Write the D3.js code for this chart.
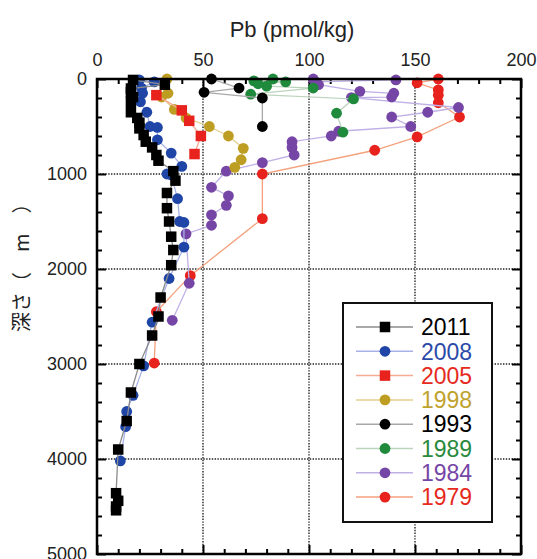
<!DOCTYPE html>
<html>
<head>
<meta charset="utf-8">
<script src="https://cdn.jsdelivr.net/npm/d3@7"></script>
<style>
  body { margin: 0; background: #fff; }
  svg { display: block; font-family: "Liberation Sans", Arial, sans-serif; }
</style>
</head>
<body>
<svg id="chart" width="537" height="559"></svg>
<script>
// Pb profiles, depth in m, Pb in pmol/kg
const depth2011 = [10, 60, 100, 140, 190, 240, 350, 410, 460, 520, 590, 660, 720, 800, 860, 970, 1070, 1200, 1360, 1500, 1660, 1800, 1960, 2300, 2500, 2700, 3000, 3300, 3600, 3900, 4360, 4440, 4500, 4540];
const pb2011 = [17, 32, 16, 16, 17, 16, 16, 19, 20, 20, 22, 23, 26, 28, 29, 36, 37, 33, 33, 34, 35, 36, 35, 30, 29, 26, 20, 16, 14, 10, 9, 10, 9, 9];

const depth2008 = [10, 30, 95, 150, 240, 350, 500, 510, 640, 780, 920, 1000, 1010, 1260, 1500, 1510, 1770, 2100, 2560, 3020, 3330, 3500, 3660, 4020];
const pb2008 = [20, 27, 21, 21.5, 20.5, 23.5, 25, 28.5, 28.5, 35, 40, 33, 35, 38, 39, 41, 41, 34, 26, 22, 17, 14, 13.5, 11];

const depth2005 = [170, 330, 440, 600, 790];
const pb2005 = [28, 40, 43.5, 49, 46];

const depth1998 = [0, 150, 190, 320, 410, 500, 600, 730, 850, 930];
const pb1998 = [33, 33.5, 30.5, 36.5, 42, 53, 62, 69, 68, 65];

const depth1993 = [0, 95, 140, 200, 500];
const pb1993 = [54, 67, 50.5, 78, 78];

const depth1989 = [0, 20, 30, 50, 75, 95, 160, 210, 360, 560];
const pb1989 = [83, 74, 89, 76, 80, 102, 72.5, 121, 113, 116];

const depth1984 = [0, 10, 30, 60, 130, 150, 190, 195, 300, 350, 400, 500, 550, 600, 660, 720, 800, 880, 970, 1140, 1230, 1330, 1430, 1540, 1630, 2150, 2540];
const pb1984 = [102, 141, 103, 104.5, 124, 140, 139, 120, 170.5, 156, 139, 148, 114, 110.5, 92, 92, 93, 78, 61, 54, 62, 61, 54, 54, 42, 43.5, 35.5];

const depth1979 = [0, 40, 115, 170, 250, 400, 610, 750, 1000, 1470, 2070, 2450, 2990];
const pb1979 = [161, 151, 161, 161, 161, 171, 151, 131, 78, 78, 44, 28, 27];

const xTicks = [0, 50, 100, 150, 200];
const yTicks = [0, 1000, 2000, 3000, 4000, 5000];

// styling per year, oldest drawn first
const series = [
  { year: '1979', depth: depth1979, pb: pb1979, shape: 'circle', mark: '#e8221c', line: '#f4a17c', text: '#e52a20' },
  { year: '1984', depth: depth1984, pb: pb1984, shape: 'circle', mark: '#7646a6', line: '#bfb0e6', text: '#7646a6' },
  { year: '1989', depth: depth1989, pb: pb1989, shape: 'circle', mark: '#1f8a3c', line: '#bcd3bc', text: '#2a8a3e' },
  { year: '1993', depth: depth1993, pb: pb1993, shape: 'circle', mark: '#000000', line: '#a8a8a8', text: '#000000' },
  { year: '1998', depth: depth1998, pb: pb1998, shape: 'circle', mark: '#bd9d22', line: '#e3cf8c', text: '#c0a22e' },
  { year: '2005', depth: depth2005, pb: pb2005, shape: 'square', mark: '#e8221c', line: '#f7aa92', text: '#e52a20' },
  { year: '2008', depth: depth2008, pb: pb2008, shape: 'circle', mark: '#1f45a6', line: '#a9b2e6', text: '#2b4aa8' },
  { year: '2011', depth: depth2011, pb: pb2011, shape: 'square', mark: '#000000', line: '#8c8c8c', text: '#000000' },
];

const cs = {
  left: 97, right: 521, top: 79, bottom: 554,
  r: 5.4, sq: 10.5,
  font: '"Liberation Sans", Arial, sans-serif',
};

const svg = d3.select('#chart');
const x = d3.scaleLinear().domain([0, 200]).range([cs.left, cs.right]);
const y = d3.scaleLinear().domain([0, 5000]).range([cs.top, cs.bottom]);

// dotted grid
const grid = svg.append('g').attr('stroke', '#222').attr('stroke-width', 1.4).attr('stroke-dasharray', '1.4,1.4');
grid.selectAll('line.v').data([50, 100, 150]).enter().append('line')
  .attr('x1', d => x(d)).attr('x2', d => x(d)).attr('y1', cs.top).attr('y2', cs.bottom);
grid.selectAll('line.h').data([1000, 2000, 3000, 4000]).enter().append('line')
  .attr('y1', d => y(d)).attr('y2', d => y(d)).attr('x1', cs.left).attr('x2', cs.right);

// tick marks on all four sides, pointing inward
const addAxis = (axis, tx, ty) => {
  const g = svg.append('g').attr('transform', `translate(${tx},${ty})`).call(axis);
  g.select('.domain').remove();
  g.selectAll('.tick line').attr('stroke', '#000').attr('stroke-width', 2);
  return g;
};
const minorX = d3.range(0, 201, 10).filter(v => v % 50);
const minorY = d3.range(0, 5001, 200).filter(v => v % 1000);
addAxis(d3.axisTop(x).tickValues(minorX).tickSize(-5).tickFormat(''), 0, cs.top);
addAxis(d3.axisBottom(x).tickValues(minorX).tickSize(-5).tickFormat(''), 0, cs.bottom);
addAxis(d3.axisLeft(y).tickValues(minorY).tickSize(-5).tickFormat(''), cs.left, 0);
addAxis(d3.axisRight(y).tickValues(minorY).tickSize(-5).tickFormat(''), cs.right, 0);
addAxis(d3.axisBottom(x).tickValues(xTicks).tickSize(-9).tickFormat(''), 0, cs.bottom);
addAxis(d3.axisRight(y).tickValues(yTicks).tickSize(-9).tickFormat(''), cs.right, 0);

const topAxis = addAxis(d3.axisTop(x).tickValues(xTicks).tickSize(-9).tickPadding(13).tickFormat(d3.format('d')), 0, cs.top);
topAxis.selectAll('text').attr('font-size', 18).attr('fill', '#222').style('font-family', cs.font);
const leftAxis = addAxis(d3.axisLeft(y).tickValues(yTicks).tickSize(-9).tickPadding(10).tickFormat(d3.format('d')), cs.left, 0);
leftAxis.selectAll('text').attr('font-size', 18).attr('fill', '#222').style('font-family', cs.font);

// axis titles
svg.append('text').attr('x', 292).attr('y', 37).attr('text-anchor', 'middle')
  .attr('font-size', 22).attr('fill', '#222').text('Pb (pmol/kg)');
svg.append('text').attr('transform', 'translate(29,332) rotate(-90)')
  .attr('font-size', 20).attr('fill', '#222')
  .style('font-family', '"Noto Sans CJK JP", sans-serif')
  .text('深さ（　m　）');

// profiles
const line = d3.line().x(d => x(d[1])).y(d => y(d[0]));
const drawMarks = (g, pts, s) => {
  if (s.shape === 'square') {
    g.selectAll('rect').data(pts).enter().append('rect')
      .attr('x', d => x(d[1]) - cs.sq / 2).attr('y', d => y(d[0]) - cs.sq / 2)
      .attr('width', cs.sq).attr('height', cs.sq).attr('fill', s.mark);
  } else {
    g.selectAll('circle').data(pts).enter().append('circle')
      .attr('cx', d => x(d[1])).attr('cy', d => y(d[0])).attr('r', cs.r).attr('fill', s.mark);
  }
};

series.forEach((s) => {
  const pts = s.depth.map((d, i) => [d, s.pb[i]]);
  const g = svg.append('g');
  g.append('path').attr('d', line(pts)).attr('fill', 'none')
    .attr('stroke', s.line).attr('stroke-width', 1.3);
  drawMarks(g, pts, s);
});

// frame
svg.append('rect').attr('x', cs.left).attr('y', cs.top)
  .attr('width', cs.right - cs.left).attr('height', cs.bottom - cs.top)
  .attr('fill', 'none').attr('stroke', '#000').attr('stroke-width', 2.5);

// legend
const lg = svg.append('g');
lg.append('rect').attr('x', 343).attr('y', 303).attr('width', 149).attr('height', 219)
  .attr('fill', '#fff').attr('stroke', '#111').attr('stroke-width', 2);
series.slice().reverse().forEach((s, i) => {
  const ly = 327 + i * 24.3;
  const row = lg.append('g');
  row.append('line').attr('x1', 356).attr('x2', 413).attr('y1', ly).attr('y2', ly)
    .attr('stroke', s.line).attr('stroke-width', 1.5);
  if (s.shape === 'square') {
    row.append('rect').attr('x', 385 - cs.sq / 2).attr('y', ly - cs.sq / 2)
      .attr('width', cs.sq).attr('height', cs.sq).attr('fill', s.mark);
  } else {
    row.append('circle').attr('cx', 385).attr('cy', ly).attr('r', cs.r).attr('fill', s.mark);
  }
  row.append('text').attr('x', 421).attr('y', ly).attr('dy', '0.36em')
    .attr('font-size', 23).attr('fill', s.text).text(s.year);
});
</script>
</body>
</html>
